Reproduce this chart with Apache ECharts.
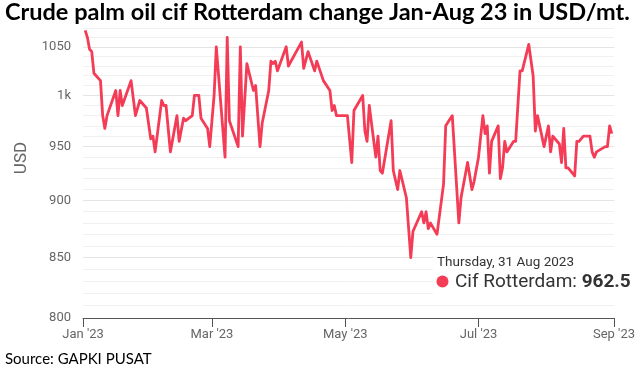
<!DOCTYPE html>
<html>
<head>
<meta charset="utf-8">
<script src="https://cdn.jsdelivr.net/npm/echarts@6/dist/echarts.min.js"></script>
<style>
html,body{margin:0;padding:0;background:#fff;}
#chart{width:638px;height:374px;}
</style>
</head>
<body>
<div id="chart"></div>
<script>
// ---- data ----
const dates = [
 '2023-01-02','2023-01-03','2023-01-04','2023-01-05','2023-01-06','2023-01-07','2023-01-09','2023-01-10','2023-01-11','2023-01-12',
 '2023-01-16','2023-01-17','2023-01-18','2023-01-19','2023-01-23','2023-01-25','2023-01-27','2023-01-30','2023-02-01','2023-02-02',
 '2023-02-03','2023-02-06','2023-02-07','2023-02-08','2023-02-10','2023-02-13','2023-02-14','2023-02-16','2023-02-17','2023-02-20',
 '2023-02-21','2023-02-23','2023-02-24','2023-02-27','2023-02-28','2023-03-02','2023-03-03','2023-03-07','2023-03-08','2023-03-09',
 '2023-03-13','2023-03-14','2023-03-15','2023-03-17','2023-03-20','2023-03-21','2023-03-23','2023-03-24','2023-03-27','2023-03-28',
 '2023-03-29','2023-03-30','2023-03-31','2023-04-04','2023-04-05','2023-04-11','2023-04-12','2023-04-14','2023-04-17','2023-04-18',
 '2023-04-21','2023-04-24','2023-04-25','2023-04-26','2023-04-27','2023-05-02','2023-05-04','2023-05-05','2023-05-09','2023-05-10',
 '2023-05-11','2023-05-12','2023-05-15','2023-05-16','2023-05-17','2023-05-18','2023-05-22','2023-05-23','2023-05-25','2023-05-26',
 '2023-05-29','2023-05-31','2023-06-01','2023-06-05','2023-06-06','2023-06-07','2023-06-08','2023-06-09','2023-06-12','2023-06-15',
 '2023-06-16','2023-06-19','2023-06-22','2023-06-23','2023-06-26','2023-06-28','2023-06-29','2023-07-01','2023-07-03','2023-07-04',
 '2023-07-05','2023-07-06','2023-07-07','2023-07-10','2023-07-11','2023-07-12','2023-07-13','2023-07-14','2023-07-17','2023-07-18',
 '2023-07-20','2023-07-21','2023-07-24','2023-07-26','2023-07-27','2023-07-28','2023-07-31','2023-08-02','2023-08-03','2023-08-04',
 '2023-08-07','2023-08-08','2023-08-09','2023-08-10','2023-08-11','2023-08-14','2023-08-15','2023-08-16','2023-08-18','2023-08-21',
 '2023-08-22','2023-08-23','2023-08-24','2023-08-28','2023-08-29','2023-08-30','2023-08-31'
];
const cifRotterdam = [
 1067.5,1060,1047.5,1045,1022.5,1020,1015,980,967.5,980,
 1005,980,1005,990,1015,980,995,987.5,957.5,960,
 945,995,990,990,945,980,955,977.5,975,980,
 1000,1000,977.5,967.5,950,1000,1050,940,1060,975,
 950,1050,960,1032.5,1005,1010,950,972.5,1005,1035,
 1032.5,1035,1025,1050,1030,1055,1027.5,1045,1025,1035,
 1015,1005,985,990,980,980,935,985,1000,965,
 955,990,940,960,927.5,925,975,927.5,910,927.5,
 902.5,850,872.5,890,880,890,875,880,870,915,
 970,980,880,902.5,935,910,917.5,940,980,962.5,
 970,925,955,970,920,930,955,945,955,955,
 1025,1025,1052.5,1020,965,980,950,970,945,960,
 952.5,935,967.5,930,930,922.5,955,955,960,960,
 945,940,945,950,950,970,962.5
];
const seriesName = 'Cif Rotterdam';
const yMajorTicks = [800, 850, 900, 950, 1000, 1050];
const yMinorTicks = [810,820,830,840,860,870,880,890,910,920,930,940,960,970,980,990,1010,1020,1030,1040,1060,1070];
const xTickDates = ['2023-01-01','2023-03-01','2023-05-01','2023-07-01','2023-09-01'];
const xTickLabels = ["Jan '23","Mar '23","May '23","Jul '23","Sep '23"];
const titleText = 'Crude palm oil cif Rotterdam change Jan-Aug 23 in USD/mt.';
const sourceText = 'Source: GAPKI PUSAT';
const tipDate = 'Thursday, 31 Aug 2023';

// ---- chart ----
const ts = s => Date.UTC(+s.slice(0, 4), +s.slice(5, 7) - 1, +s.slice(8, 10));
const xTickTs = xTickDates.map(ts);
const lineColor = '#f43c57';
const chart = echarts.init(document.getElementById('chart'), null, {renderer: 'canvas'});
const lastVal = cifRotterdam[cifRotterdam.length - 1];

const option = {
  animation: false,
  backgroundColor: '#ffffff',
  grid: {left: 83, right: 7, top: 28, bottom: 56, containLabel: false},
  xAxis: {
    type: 'value',
    min: xTickTs[0],
    max: xTickTs[xTickTs.length - 1],
    axisLine: {show: true, lineStyle: {color: '#555', width: 1}},
    axisTick: {show: true, length: 9, lineStyle: {color: '#555'}, customValues: xTickTs},
    axisLabel: {
      customValues: xTickTs,
      color: '#666', fontFamily: 'Roboto', fontSize: 13, margin: 10,
      formatter: v => { const i = xTickTs.indexOf(v); return i >= 0 ? xTickLabels[i] : ''; }
    },
    splitLine: {show: false}
  },
  yAxis: [{
    type: 'log',
    min: 800, max: 1070,
    axisLine: {show: false},
    axisTick: {show: false, customValues: yMajorTicks},
    axisLabel: {
      customValues: yMajorTicks,
      color: '#666', fontFamily: 'Roboto', fontSize: 13, margin: 12,
      formatter: v => (Math.abs(v - 1000) < 1e-6 ? '1k' : String(Math.round(v)))
    },
    splitLine: {show: true, lineStyle: {color: '#e4e4e4', width: 1}}
  }, {
    type: 'log',
    min: 800, max: 1070,
    position: 'left',
    axisLine: {show: false},
    axisTick: {show: false, customValues: yMinorTicks},
    axisLabel: {show: false, customValues: yMinorTicks},
    splitLine: {show: true, lineStyle: {color: '#f0f0f0', width: 1}}
  }],
  series: [{
    name: seriesName,
    type: 'line',
    yAxisIndex: 0,
    data: dates.map((d, i) => [ts(d), cifRotterdam[i]]),
    showSymbol: false,
    symbol: 'none',
    lineStyle: {color: lineColor, width: 2.8, join: 'round'},
    z: 5
  }],
  graphic: [
    {type: 'text', left: 5, top: 0, z: 100,
     style: {text: titleText, fontFamily: 'Lato', fontWeight: 'bold', fontSize: 23.5, fill: '#000'}},
    {type: 'text', left: 5, top: 352, z: 100,
     style: {text: sourceText, fontFamily: 'Lato', fontSize: 15, fill: '#000'}},
    {type: 'text', x: 22, y: 158, rotation: Math.PI / 2, z: 100,
     style: {text: 'USD', fontFamily: 'Roboto', fontSize: 17, fill: '#666', align: 'center', verticalAlign: 'middle'}},
    {type: 'rect', shape: {x: 433, y: 251, width: 210, height: 46}, z: 50,
     style: {fill: 'rgba(255,255,255,0.92)'}},
    {type: 'text', x: 437, y: 263, z: 60,
     style: {text: tipDate, fontFamily: 'Roboto', fontSize: 13.5, fill: '#333', verticalAlign: 'middle'}},
    {type: 'circle', shape: {cx: 442.5, cy: 281.5, r: 6}, z: 60, style: {fill: lineColor}},
    {type: 'text', x: 455, y: 282, z: 60,
     style: {
       text: '{a|' + seriesName + ': }{b|' + lastVal + '}',
       verticalAlign: 'middle',
       rich: {
         a: {fontFamily: 'Roboto', fontSize: 19, fill: '#333'},
         b: {fontFamily: 'Roboto', fontSize: 19, fontWeight: 'bold', fill: '#333'}
       }
     }}
  ]
};
chart.setOption(option);
</script>
</body>
</html>
